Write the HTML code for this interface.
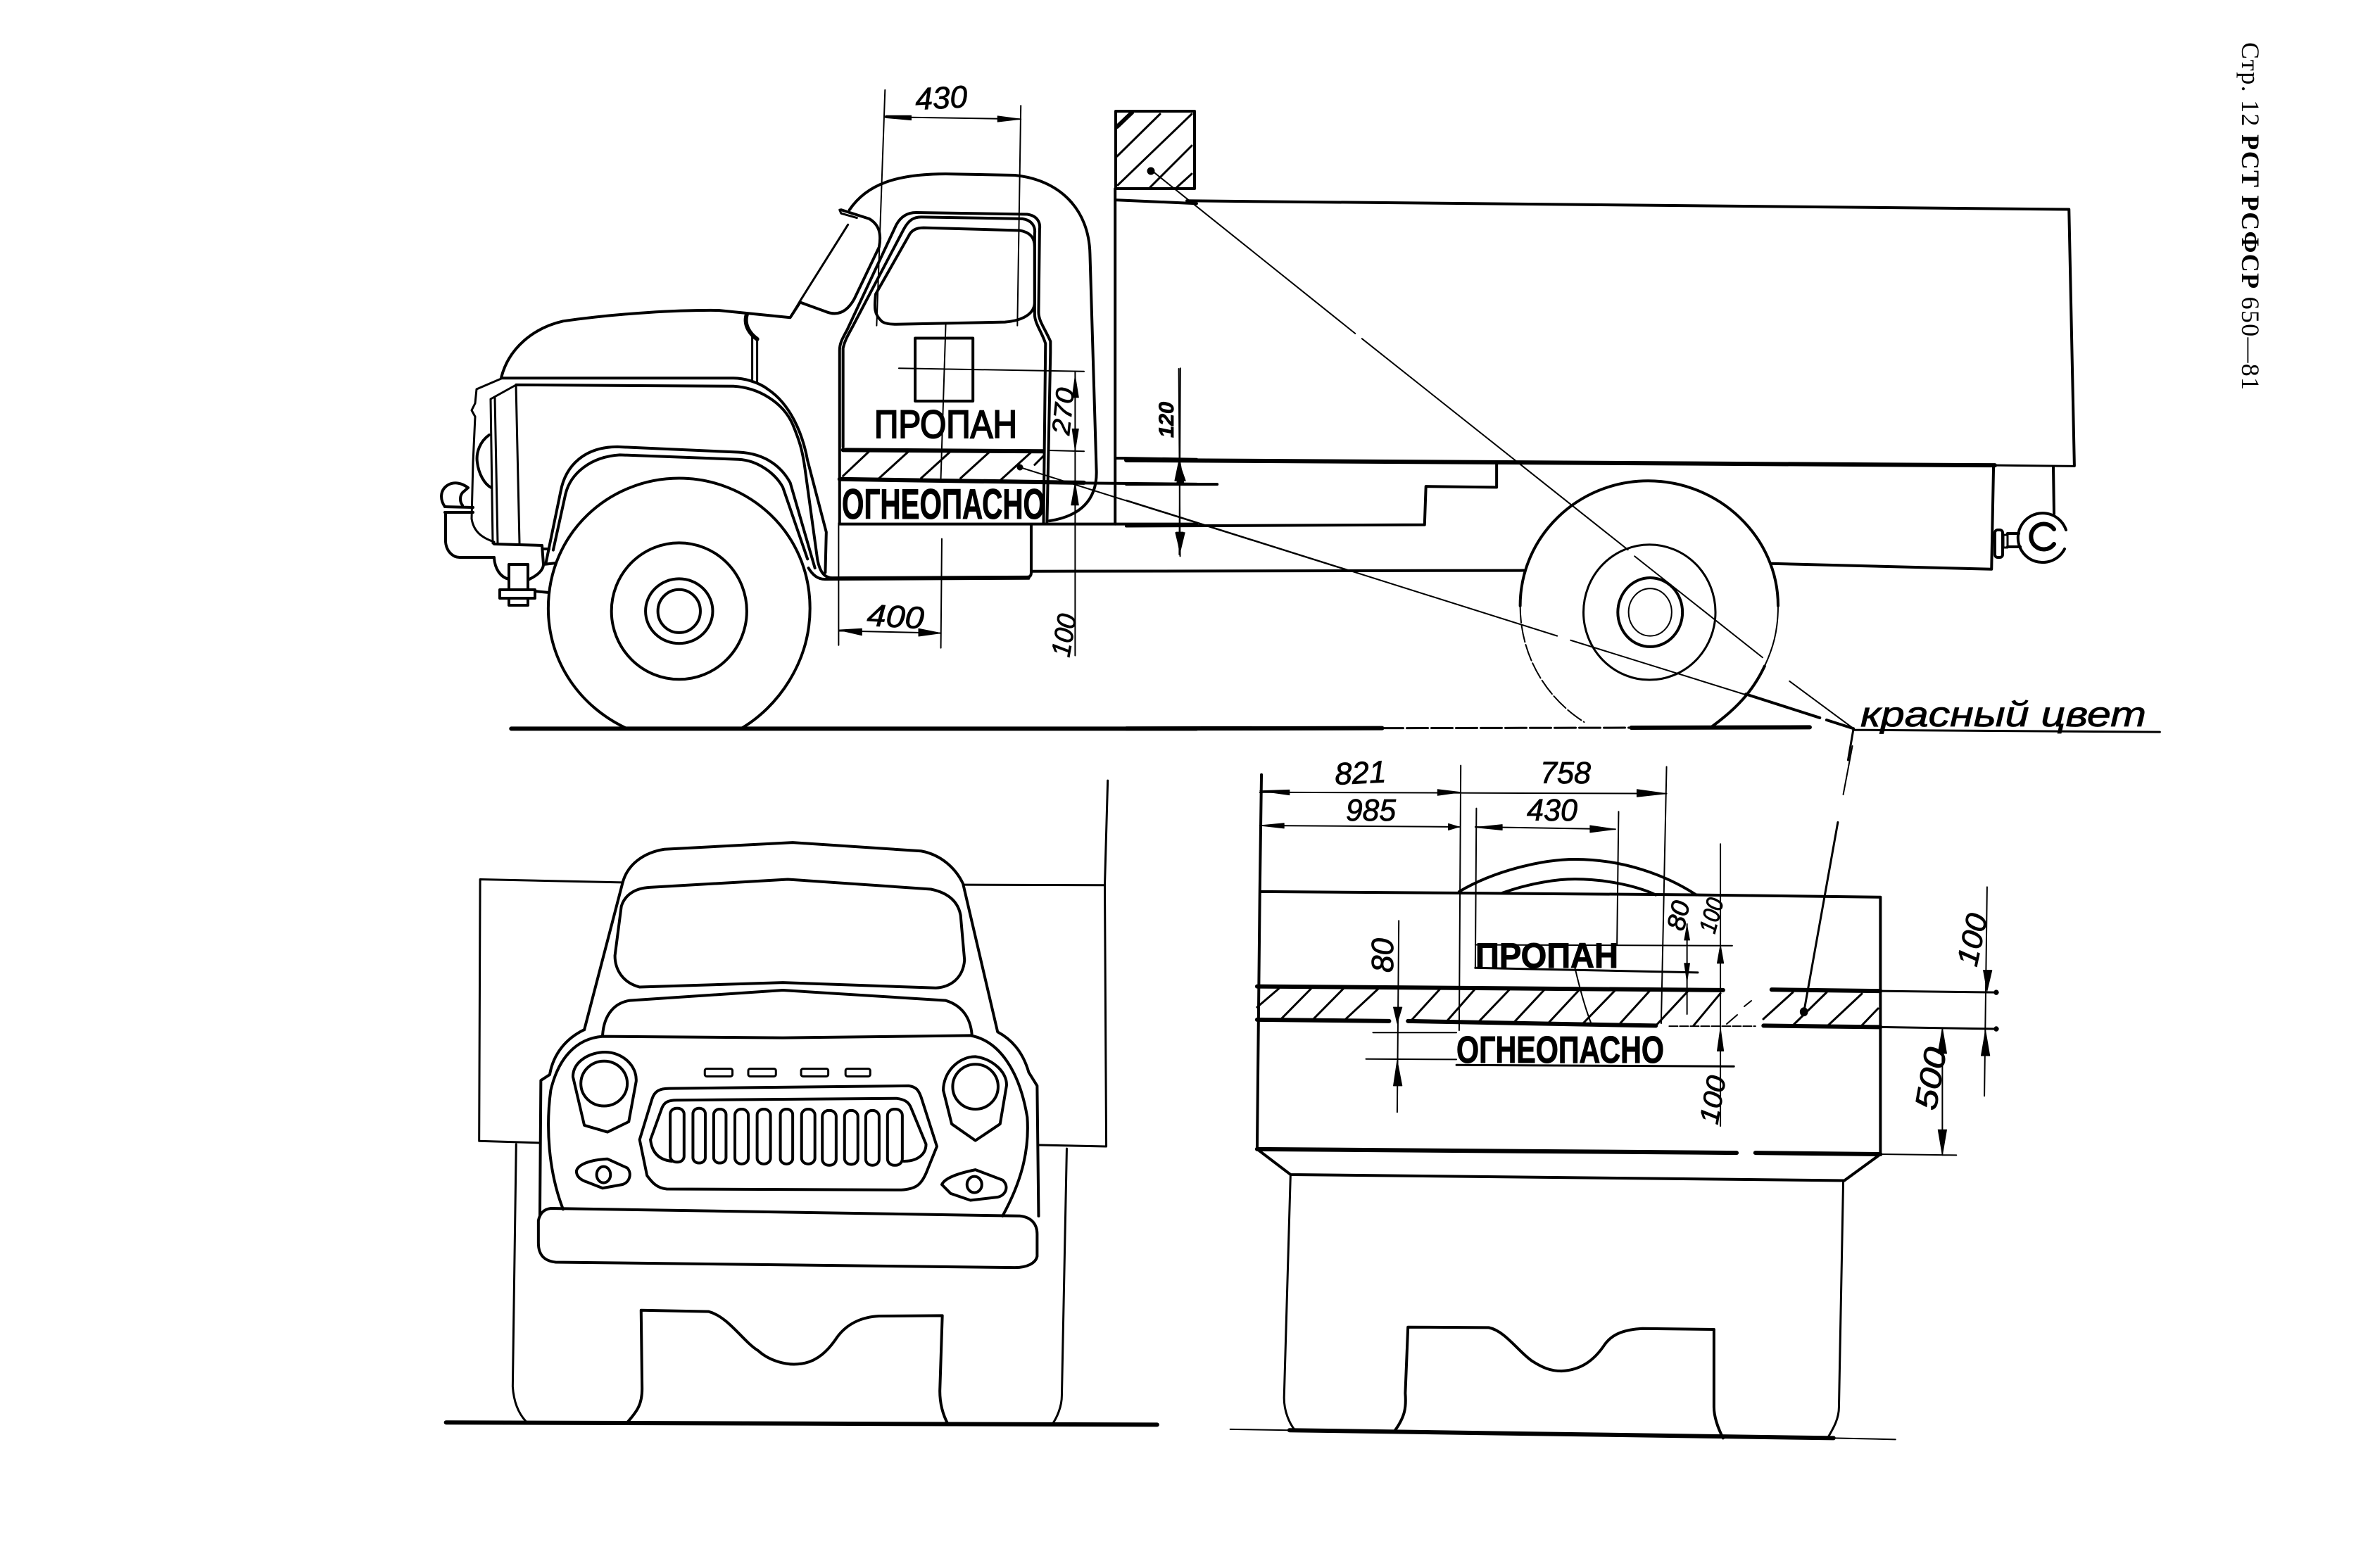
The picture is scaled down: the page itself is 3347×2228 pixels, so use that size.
<!DOCTYPE html>
<html><head><meta charset="utf-8"><style>
html,body{margin:0;padding:0;background:#fff;width:3347px;height:2228px;overflow:hidden}
svg{display:block}
path,line,ellipse,rect,polygon,circle{vector-effect:non-scaling-stroke;fill:none;stroke:#000;stroke-linecap:round;stroke-linejoin:round}
.m{stroke-width:4}.h{stroke-width:6}.t{stroke-width:2}.s{stroke-width:3}
.f{fill:#000;stroke-width:1}
text{font-family:"Liberation Sans","DejaVu Sans",sans-serif;fill:#000}
.d{font-style:italic;font-size:44px;stroke:#000;stroke-width:.8px}
.b{font-weight:bold;stroke:#000;stroke-width:1px}
.r{stroke:#000;stroke-width:2px}
</style></head><body>
<svg xmlns="http://www.w3.org/2000/svg" width="3347" height="2228" viewBox="0 0 3347 2228">
<rect x="0" y="0" width="3347" height="2228" style="fill:#fff;stroke:none"/>

<!-- Side view, front part -->
<g transform="translate(600,80) scale(.7015,.6378)">
<path class="m" d="M865,342C900,285 960,262 1060,262L1200,265C1290,275 1350,340 1352,440L1365,920C1368,990 1330,1025 1270,1035"/>
<path class="m" d="M848,342L905,362C925,375 930,395 925,425L875,540C860,570 840,580 815,568L765,548"/>
<path class="s" d="M862,375L765,545L745,582"/>
<path class="s" d="M845,342L848,350L880,360"/>
<path class="m" d="M845,1040L845,655C845,640 850,630 860,610L960,375C970,355 985,348 1000,348L1225,352C1245,355 1252,370 1250,385L1248,570C1248,590 1260,605 1272,635L1272,660L1265,1040"/>
<path class="m" d="M852,870L852,650C855,635 860,625 870,605L975,385C985,365 995,358 1010,358L1215,362C1235,365 1242,380 1240,395L1240,575C1240,595 1255,615 1262,640L1258,1040"/>
<path class="m" d="M930,590C915,575 915,560 918,530L985,400C990,388 1000,382 1015,382L1210,388C1232,392 1240,405 1240,425L1240,550C1238,580 1205,590 1180,592L960,597C945,597 935,595 930,590Z"/>
<path class="m" d="M160,715C175,650 225,605 285,590C400,572 520,565 600,566L745,582L765,548"/>
<path class="m" d="M160,717L630,717C650,717 680,725 700,742C745,775 770,840 780,900L818,1060L816,1150"/>
<path class="m" d="M190,732L630,735C680,738 730,770 750,820C765,860 770,880 775,920L800,1120C805,1150 815,1162 830,1162L1225,1160C1232,1160 1233,1155 1233,1150L1233,1045"/>
<path class="h" d="M657,575C650,600 665,620 678,630"/>
<path class="s" d="M678,630L678,725M668,625L668,720"/>
<path class="m" d="M250,1130L280,970C290,910 330,870 395,870L640,882C700,885 730,920 745,950L795,1140"/>
<path class="m" d="M265,1100L290,975C300,930 340,892 400,888L640,898C680,900 715,930 730,960L780,1120"/>
<path class="m" d="M782,1140C790,1155 800,1165 815,1165L1228,1163"/>
<path class="m" d="M415,1498C320,1450 255,1350 255,1230C255,1060 380,940 520,940C660,940 785,1060 785,1230C785,1350 720,1450 645,1498"/>
<ellipse class="m" cx="520" cy="1236" rx="137" ry="152"/>
<ellipse class="m" cx="520" cy="1236" rx="68" ry="72"/>
<ellipse class="m" cx="520" cy="1236" rx="43" ry="48"/>
<path class="h" d="M180,1498L1568,1498"/>
<!-- hatch band and lines -->
<path class="h" d="M852,877L1258,880M845,942L1340,950"/>
<path class="s" d="M852,935L905,880M925,940L985,880M1010,940L1070,880M1090,940L1150,880M1170,945L1235,880M1240,910L1258,890"/>
<path class="m" d="M845,1042L1568,1042M1270,950L1568,953"/>
<path class="m" d="M1403,295L1403,1042M1403,320L1568,328M1403,895L1568,898"/>
<rect class="m" x="998" y="628" width="117" height="140"/>
<!-- dimensions -->
<path class="t" d="M937,75L920,600M1212,110L1205,600M937,135L1212,140M1060,595L1050,940M1052,1075L1050,1318M965,695L1340,702M1270,878L1340,880M1322,702L1322,1335M843,1040L843,1312M843,1280L1050,1285M1535,695L1533,1110"/>
<path class="f" d="M938,132L990,132L990,142L938,137ZM1212,140L1165,133L1165,146ZM843,1278L890,1275L890,1290ZM1050,1285L1005,1275L1005,1292ZM1322,712L1316,760L1329,760ZM1322,878L1316,830L1329,830ZM1322,950L1314,1000L1329,1000ZM1535,905L1528,950L1542,950ZM1534,1108L1527,1060L1541,1060Z"/>
</g>

<!-- Front end detail (global coordinates) -->
<path class="s" d="M712,538L677,553L675,573L670,583L675,592L672,657L670,737C673,757 687,765 702,770"/>
<path class="s" d="M733,547L697,567L700,772M703,565L707,772M733,547L738,772"/>
<path class="m" d="M695,618C682,627 676,643 678,657C680,673 688,688 698,693"/>
<path class="m" d="M632,720C625,710 625,697 635,690C645,683 657,687 665,693L657,700C653,705 653,713 657,718"/>
<path class="m" d="M632,720L672,721M632,728L672,728"/>
<path class="m" d="M633,728L633,770C634,783 643,792 653,792L702,792"/>
<path class="m" d="M702,773L770,775L772,802L790,800M702,793C703,807 710,820 723,823M752,823C763,818 772,810 772,802"/>
<path class="m" d="M723,802H750V838H723ZM710,838H760V850H710ZM723,850H750V860H723ZM760,840L780,842M772,780L780,780"/>

<!-- Side view, rear part -->
<g transform="translate(1600,120) scale(.9566,.6122)">
<path class="m" d="M90,270L1400,290L1408,885"/>
<path class="h" d="M0,872L1290,884"/>
<path class="s" d="M1290,884L1408,886"/>
<path class="m" d="M0,928L135,928"/>
<path class="m" d="M550,880L550,935L445,933L443,1022L0,1025"/>
<path class="m" d="M-140,1130L590,1128"/>
<path class="m" d="M958,1112L1285,1125L1288,885"/>
<path class="m" d="M585,1210C585,1050 670,920 775,920C880,920 968,1050 968,1210"/>
<path class="t" d="M585,1210C585,1320 620,1420 680,1480" stroke-dasharray="24 4"/>
<path class="t" d="M968,1210C968,1270 960,1310 948,1350"/>
<path class="m" d="M948,1350C930,1410 905,1450 870,1490"/>
<ellipse class="s" cx="777" cy="1225" rx="98" ry="157"/>
<ellipse class="m" cx="778" cy="1225" rx="48" ry="80"/>
<ellipse class="t" cx="778" cy="1225" rx="32" ry="55"/>
<path class="h" d="M0,1495L380,1494"/>
<path class="s" d="M380,1494L750,1493" stroke-dasharray="30 5"/>
<path class="h" d="M750,1493L1015,1492"/>
<path class="t" d="M78,660L80,1095M38,200L340,578M350,590L745,1080M755,1095L945,1330M985,1385L1080,1495"/>
<path class="t" d="M0,965L640,1280M660,1290L1030,1470"/>
<path class="m" d="M920,1415L1030,1470M1040,1475L1080,1495"/>
<path class="s" d="M1080,1498L1535,1503M1080,1495L1072,1568"/>
<path class="f" d="M78,875L72,920L88,920ZM80,1085L73,1040L87,1040Z"/>
</g>

<!-- Placard square -->
<path class="m" d="M1585,158H1697V268H1585Z"/>
<path class="s" d="M1587,222L1648,162M1588,263L1693,162M1633,267L1693,207M1672,266L1693,247"/>
<path class="h" d="M1587,180L1608,160"/>
<circle class="f" cx="1635" cy="243" r="5"/>

<!-- Rear hook -->
<path class="m" d="M2917,663L2918,730"/>
<path class="m" d="M2935,753A35,35 0 1 0 2933,780"/>
<path class="h" d="M2918,752A18,18 0 1 0 2918,773"/>
<path class="m" d="M2852,758L2868,758M2852,777L2870,777"/>
<rect class="m" x="2834" y="753" width="11" height="39" rx="4"/>
<rect class="s" x="2846" y="760" width="6" height="18"/>

<!-- Front view -->
<g transform="translate(600,1090) scale(.7015,.6378)">
<path class="s" d="M405,257L117,250L115,833L237,837M1097,262L1382,263L1385,845L1250,842M1388,30L1382,263"/>
<path class="m" d="M328,585L405,260C415,215 450,190 490,183L750,168L1010,187C1050,195 1080,225 1095,260L1165,590C1190,605 1215,630 1228,680L1245,710L1248,1000"/>
<path class="m" d="M328,585C290,605 265,640 258,685L240,698L238,1000"/>
<path class="m" d="M440,490C405,480 390,450 390,420L403,310C410,285 430,270 460,268L740,250L1030,272C1065,280 1085,300 1090,330L1098,430C1095,470 1070,490 1040,492L730,480Z"/>
<path class="m" d="M365,597C368,550 390,525 420,520L730,497L1060,520C1090,530 1110,555 1113,597"/>
<path class="m" d="M285,985C255,900 250,800 260,720C275,650 310,605 365,600L730,603L1110,598C1170,610 1210,680 1225,780C1230,860 1210,930 1175,1000"/>
<path class="m" d="M260,983L1210,1000C1235,1003 1245,1020 1245,1040L1245,1090C1242,1105 1225,1115 1200,1115L270,1103C245,1100 235,1085 235,1060L235,1010C238,995 245,985 260,983Z"/>
<path class="m" d="M305,690C305,655 340,635 370,635C405,635 435,665 433,700L418,790L375,813L328,798Z"/>
<ellipse class="m" cx="368" cy="705" rx="47" ry="50"/>
<path class="m" d="M1055,720C1055,680 1085,645 1120,645C1155,650 1185,680 1183,710L1170,795L1120,832L1072,795Z"/>
<ellipse class="m" cx="1120" cy="712" rx="46" ry="50"/>
<rect class="s" x="572" y="672" width="56" height="17" rx="4"/>
<rect class="s" x="660" y="672" width="56" height="17" rx="4"/>
<rect class="s" x="767" y="672" width="55" height="17" rx="4"/>
<rect class="s" x="857" y="672" width="50" height="17" rx="4"/>
<path class="m" d="M440,830L465,740C470,722 480,716 500,716L985,710C1000,712 1005,720 1010,735L1042,845L1020,905C1010,930 1000,940 970,942L495,940C475,938 465,925 455,910Z"/>
<path class="m" d="M462,830L485,760C490,745 500,742 515,742L960,738C975,740 985,745 990,760L1020,840C1020,865 1000,878 975,878M462,830C465,860 480,875 505,878"/>
<rect class="m" x="502" y="760" width="28" height="120" rx="13"/>
<rect class="m" x="548" y="760" width="25" height="122" rx="12"/>
<rect class="m" x="590" y="762" width="25" height="120" rx="12"/>
<rect class="m" x="633" y="762" width="27" height="122" rx="13"/>
<rect class="m" x="678" y="762" width="27" height="122" rx="13"/>
<rect class="m" x="725" y="762" width="25" height="122" rx="12"/>
<rect class="m" x="768" y="762" width="27" height="122" rx="13"/>
<rect class="m" x="810" y="765" width="28" height="122" rx="13"/>
<rect class="m" x="855" y="765" width="27" height="120" rx="13"/>
<rect class="m" x="898" y="765" width="27" height="122" rx="13"/>
<rect class="m" x="942" y="762" width="30" height="125" rx="14"/>
<path class="m" d="M312,900C315,885 340,875 375,873L415,893C425,905 420,925 405,930L365,938L335,925C320,920 312,912 312,900Z"/>
<ellipse class="m" cx="367" cy="908" rx="14" ry="18"/>
<path class="m" d="M1052,930C1058,915 1085,905 1120,897L1175,920C1190,935 1180,955 1165,958L1110,965L1070,950Z"/>
<ellipse class="m" cx="1118" cy="930" rx="15" ry="18"/>
<path class="s" d="M190,840L183,1380C185,1415 195,1440 210,1458M1305,850L1295,1400C1295,1425 1285,1450 1275,1465"/>
<path class="m" d="M415,1460C435,1435 445,1420 445,1385L443,1210L580,1213C620,1225 650,1280 680,1300C705,1325 740,1332 760,1330C800,1328 825,1295 840,1270C860,1240 890,1225 925,1223L1053,1222L1048,1390C1048,1420 1055,1445 1065,1465"/>
<path class="h" d="M48,1460L1488,1465"/>
</g>

<!-- Rear view -->
<g transform="translate(1740,1060) scale(.7653,.6569)">
<path class="m" d="M68,62L65,315L60,872M65,315L435,318L875,322L1217,327L1217,880"/>
<path class="h" d="M60,872L950,880M985,880L1217,883"/>
<path class="m" d="M60,872L122,927L1150,940L1217,883"/>
<path class="s" d="M122,927L110,1410C110,1440 120,1465 130,1480M1148,942L1140,1430C1140,1455 1130,1475 1120,1495"/>
<path class="m" d="M315,1482C335,1450 337,1430 335,1400L340,1257L490,1258C520,1265 545,1310 570,1330C590,1345 605,1352 625,1352C660,1350 685,1330 705,1295C720,1270 745,1262 775,1260L908,1262L908,1430C908,1450 915,1475 925,1497"/>
<path class="h" d="M120,1480L1130,1497"/>
<path class="t" d="M10,1478L120,1480M1130,1497L1245,1500"/>
<path class="h" d="M60,520L925,528M1015,527L1217,530M60,592L305,595M340,595L800,605M1000,605L1217,608"/>
<path class="s" d="M1217,530L1435,533M1217,608L1435,612"/>
<path class="t" d="M825,606L985,606" stroke-dasharray="12 3"/>
<path class="s" d="M60,565L100,525M105,590L160,525M165,590L220,525M225,590L285,525M345,595L400,525M410,598L465,525M470,598L530,525M535,600L595,525M600,600L660,525M665,600L725,528M730,605L790,528M800,605L860,530M870,605L920,535"/>
<path class="m" d="M435,315C500,270 590,245 650,245C740,245 820,280 875,322"/>
<path class="m" d="M515,318C570,295 620,288 650,288C700,288 760,300 800,322"/>
<path class="t" d="M65,100L820,103M438,42L435,615M820,45L810,600M65,172L435,175M467,135L465,480M731,142L728,430M465,175L725,180"/>
<path class="t" d="M323,378L320,792M275,620L430,620M262,677L430,678M465,430L942,432M858,385L858,580M920,212L920,822M1415,305L1410,757M1332,610L1332,885M1217,883L1358,885M650,480C660,530 670,570 680,600"/>
<path class="s" d="M465,480L878,490M430,690L945,693"/>
<path class="t" d="M1165,0L1148,105"/>
<path class="s" d="M1138,165L1075,575"/>
<path class="f" d="M65,97L120,95L120,106ZM438,100L395,94L395,107ZM820,103L765,94L765,110ZM65,172L110,167L110,178ZM435,175L415,168L415,182ZM465,176L515,170L515,182ZM725,180L678,172L678,187ZM320,600L313,565L329,565ZM320,680L313,735L329,735ZM858,510L853,470L863,470ZM858,388L853,420L863,420ZM920,430L914,470L926,470ZM920,610L914,660L926,660ZM1415,530L1408,485L1424,485ZM1412,615L1404,670L1420,670ZM1332,610L1324,665L1340,665ZM1332,885L1324,830L1340,830Z"/>
<ellipse class="f" cx="1075" cy="575" rx="7" ry="9"/>
<ellipse class="f" cx="1432" cy="533" rx="4" ry="5"/>
<ellipse class="f" cx="1432" cy="612" rx="4" ry="5"/>
</g>

<!-- Broken and right-hand band hatching -->
<path class="t" d="M2453,1455L2468,1442M2478,1430L2488,1422"/>
<path class="s" d="M2505,1448L2547,1410M2547,1457L2595,1410M2597,1457L2645,1412M2645,1457L2668,1433"/>

<!-- Door leader start -->
<path class="t" d="M1449,664L1920,812"/>
<ellipse class="f" cx="1449" cy="664" rx="4" ry="4"/>

<!-- Labels -->
<text class="r" x="1242" y="622" font-size="56" textLength="203" lengthAdjust="spacingAndGlyphs">ПРОПАН</text>
<text class="b" x="1196" y="737" font-size="60" textLength="289" lengthAdjust="spacingAndGlyphs">ОГНЕОПАСНО</text>
<text class="b" x="2096" y="1375" font-size="50" textLength="203" lengthAdjust="spacingAndGlyphs">ПРОПАН</text>
<text class="b" x="2069" y="1510" font-size="54" textLength="295" lengthAdjust="spacingAndGlyphs">ОГНЕОПАСНО</text>

<text class="d" transform="translate(1301,156) rotate(-3)" textLength="74" lengthAdjust="spacingAndGlyphs">430</text>
<text class="d" transform="translate(1231,889) rotate(3)" textLength="81" lengthAdjust="spacingAndGlyphs">400</text>
<text class="d" transform="translate(1897,1115) rotate(-3)" textLength="73" lengthAdjust="spacingAndGlyphs">821</text>
<text class="d" transform="translate(2188,1113)" textLength="72" lengthAdjust="spacingAndGlyphs">758</text>
<text class="d" transform="translate(1912,1166)" textLength="71" lengthAdjust="spacingAndGlyphs">985</text>
<text class="d" transform="translate(2169,1166)" textLength="72" lengthAdjust="spacingAndGlyphs">430</text>

<text class="d" transform="translate(1519,619) rotate(-84)" textLength="67" lengthAdjust="spacingAndGlyphs" style="font-size:36px">270</text>
<text class="d" transform="translate(1667,622) rotate(-90)" textLength="51" lengthAdjust="spacingAndGlyphs" style="font-size:30px;font-weight:bold">120</text>
<text class="d" transform="translate(1519,935) rotate(-80)" textLength="61" lengthAdjust="spacingAndGlyphs" style="font-size:38px">100</text>
<text class="d" transform="translate(2392,1324) rotate(-78)" textLength="42" lengthAdjust="spacingAndGlyphs" style="font-size:36px">80</text>
<text class="d" transform="translate(2436,1328) rotate(-75)" textLength="50" lengthAdjust="spacingAndGlyphs" style="font-size:34px">100</text>
<text class="d" transform="translate(1979,1382) rotate(-90)" textLength="49" lengthAdjust="spacingAndGlyphs" style="font-size:44px">80</text>
<text class="d" transform="translate(2440,1599) rotate(-80)" textLength="69" lengthAdjust="spacingAndGlyphs" style="font-size:38px">100</text>
<text class="d" transform="translate(2750,1579) rotate(-80)" textLength="89" lengthAdjust="spacingAndGlyphs" style="font-size:44px">500</text>
<text class="d" transform="translate(2808,1375) rotate(-78)" textLength="75" lengthAdjust="spacingAndGlyphs" style="font-size:42px">100</text>

<text class="d" x="2643" y="1032" textLength="406" lengthAdjust="spacingAndGlyphs" style="font-size:50px">красный цвет</text>

<text transform="translate(3185,60) rotate(90)" textLength="494" lengthAdjust="spacing" style="font-family:'Liberation Serif',serif;font-size:36px">Стр. 12 <tspan font-weight="bold">РСТ РСФСР</tspan> 650—81</text>
</svg>
</body></html>
